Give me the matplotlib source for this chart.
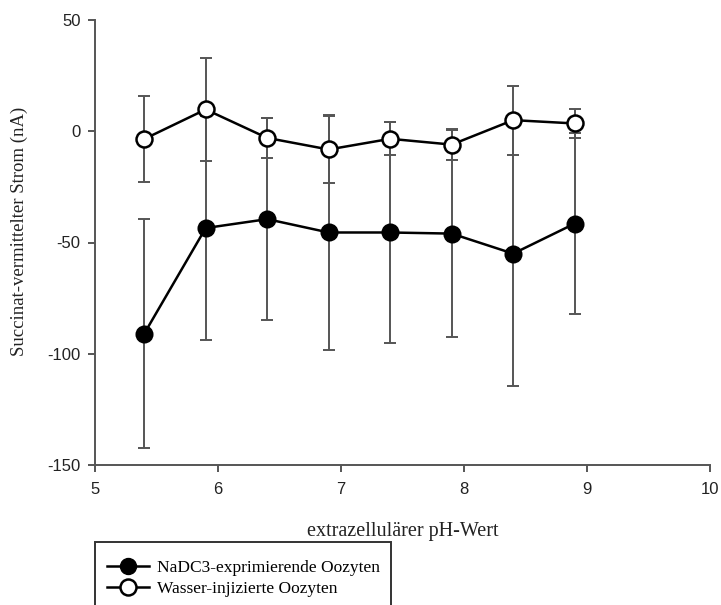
import matplotlib
matplotlib.use("Agg")
import matplotlib.pyplot as plt
from matplotlib.patches import Rectangle
from matplotlib.lines import Line2D

plt.rcParams["axes.unicode_minus"] = False

# pH values of the bath solution
ph = [5.4, 5.9, 6.4, 6.9, 7.4, 7.9, 8.4, 8.9]

# succinate-induced current (nA), mean and error
nadc3_mean = [-91, -43.5, -39.5, -45.5, -45.5, -46, -55, -41.5]
nadc3_err = [51.5, 50.5, 45.5, 52.8, 49.8, 46.6, 59.4, 40.5]
water_mean = [-3.5, 9.8, -3, -8.2, -3.4, -6, 5, 3.5]
water_err = [19.5, 23, 9, 15, 7.4, 7, 15.5, 6.7]

labels = ["NaDC3-exprimierende Oozyten", "Wasser-injizierte Oozyten"]
xticks = [5, 6, 7, 8, 9, 10]
yticks = [-150, -100, -50, 0, 50]

serif = ["Liberation Serif", "DejaVu Serif"]
sans = ["Liberation Sans", "DejaVu Sans"]

fig = plt.figure(figsize=(7.21, 6.05), dpi=100)
ax = fig.add_axes([95 / 721, 1 - 465 / 605, (710 - 95) / 721, (465 - 20) / 605])

err_kw = dict(ecolor="#555555", elinewidth=1.4, capsize=4.5, capthick=1.4, zorder=1)
ax.errorbar(ph, nadc3_mean, yerr=nadc3_err, fmt="none", **err_kw)
ax.errorbar(ph, water_mean, yerr=water_err, fmt="none", **err_kw)

ax.plot(ph, nadc3_mean, color="black", lw=1.8, marker="o", ms=11.5,
        mfc="black", mec="black", mew=1.5, zorder=3)
ax.plot(ph, water_mean, color="black", lw=1.8, marker="o", ms=11.5,
        mfc="white", mec="black", mew=1.8, zorder=3)

ax.set_xlim(5, 10)
ax.set_ylim(-150, 50)
ax.set_xticks(xticks)
ax.set_yticks(yticks)
for s in ["top", "right"]:
    ax.spines[s].set_visible(False)
for s in ["left", "bottom"]:
    ax.spines[s].set_color("#555555")
    ax.spines[s].set_linewidth(1.4)
ax.tick_params(direction="out", length=5, width=1.4, color="#555555",
               labelsize=12, pad=5.5)
ax.tick_params(axis="x", pad=7)
for lab in ax.get_xticklabels() + ax.get_yticklabels():
    lab.set_fontfamily(sans)
    lab.set_color("#222222")

ax.set_xlabel("extrazellulärer pH-Wert", fontfamily=serif, fontsize=14.5,
              color="#222222", labelpad=18)
ax.set_ylabel("Succinat-vermittelter Strom (nA)", fontfamily=serif, fontsize=13.5,
              color="#222222")
ax.yaxis.set_label_coords(-0.109, 0.526)

# legend box running off the lower edge
fig.patches.append(Rectangle((95 / 721, -0.05), (391 - 95) / 721, 0.05 + 1 - 542 / 605,
                             transform=fig.transFigure, fill=False,
                             edgecolor="#333333", lw=1.4))
handles = [
    Line2D([], [], color="black", lw=1.8, marker="o", ms=11.5, mfc="black", mec="black"),
    Line2D([], [], color="black", lw=1.8, marker="o", ms=11.5, mfc="white", mec="black", mew=1.8),
]
fig.legend(handles, labels, loc="upper left",
           bbox_to_anchor=(95 / 721, 1 - 548 / 605), frameon=False,
           prop={"family": serif, "size": 12.5}, handlelength=2.4,
           handletextpad=0.45, labelspacing=0.25, borderpad=0.2)

fig.savefig("out.png", dpi=100)
